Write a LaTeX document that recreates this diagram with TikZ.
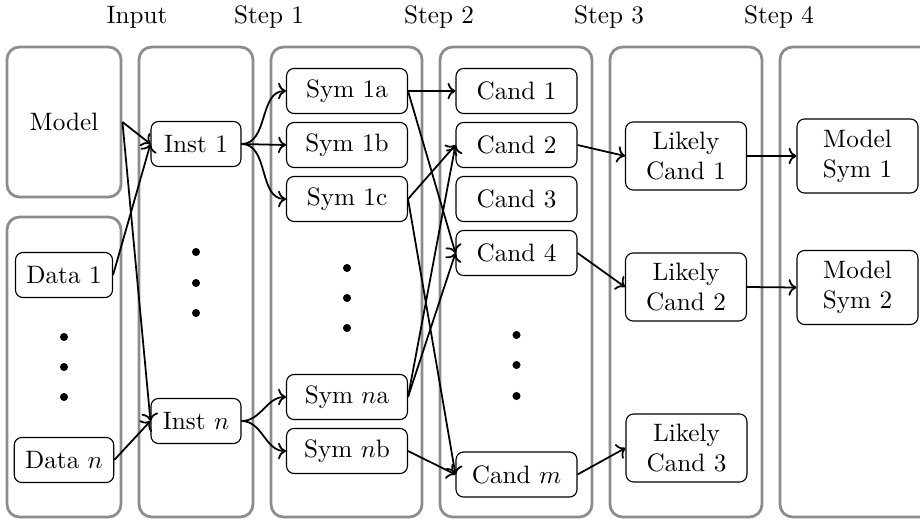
\documentclass[tikz,border=0pt]{standalone}
\usetikzlibrary{arrows.meta}
\begin{document}
\begin{tikzpicture}[x=0.397pt,y=-0.397pt,
  frame/.style={draw=black!45, line width=1.1pt, rounded corners=5pt},
  box/.style={draw, line width=0.45pt, rounded corners=3pt, inner xsep=4.3pt, minimum height=17.9pt, align=center},
  databox/.style={box, minimum width=38.5pt},
  instbox/.style={box, minimum width=35.7pt},
  symbox/.style={box, minimum width=48pt},
  likelybox/.style={box, minimum width=48pt, minimum height=27pt},
  msymbox/.style={box, minimum width=48pt, minimum height=29.4pt},
  conn/.style={->, line width=0.7pt},
  hdr/.style={anchor=base}
]
\useasboundingbox (0,0) rectangle (920,522);

% frames
\node[frame, minimum width=45.3pt, minimum height=59.6pt, inner sep=0pt] (model) at (64,122) {Model};
\draw[frame] (7,217) rectangle (121,517);
\draw[frame] (139,47) rectangle (253,517);
\draw[frame] (271,47) rectangle (422,517);
\draw[frame] (440,47) rectangle (592,517);
\draw[frame] (610,47) rectangle (762,517);
\begin{scope}
\clip (0,0) rectangle (920,522);
\draw[frame] (780,47) rectangle (960,517);
\end{scope}

% headers
\node[hdr] (hInput) at (137,24) {Input};
\node[hdr] (hS1) at (269,24) {Step 1};
\node[hdr] (hS2) at (439,24) {Step 2};
\node[hdr] (hS3) at (609,24) {Step 3};
\node[hdr] (hS4) at (779,24) {Step 4};

% input
\node[databox] (d1) at (64,275) {Data 1};
\node[databox] (dn) at (64,460) {Data $n$};
\fill (64,337) circle (1.6pt) (64,367) circle (1.6pt) (64,397) circle (1.6pt);

% step 1
\node[instbox] (i1) at (196,144) {Inst 1};
\node[instbox] (in) at (196,421) {Inst $n$};
\fill (196,252) circle (1.6pt) (196,283) circle (1.6pt) (196,313) circle (1.6pt);

% step 2
\node[symbox] (s1a) at (347,91) {Sym 1a};
\node[symbox] (s1b) at (347,145) {Sym 1b};
\node[symbox] (s1c) at (347,199) {Sym 1c};
\node[symbox] (sna) at (347,397) {Sym $n$a};
\node[symbox] (snb) at (347,451) {Sym $n$b};
\fill (347,268) circle (1.6pt) (347,298) circle (1.6pt) (347,328) circle (1.6pt);

% step 3
\node[symbox] (c1) at (516.5,91) {Cand 1};
\node[symbox] (c2) at (516.5,145) {Cand 2};
\node[symbox] (c3) at (516.5,199) {Cand 3};
\node[symbox] (c4) at (516.5,253) {Cand 4};
\node[symbox] (cm) at (516.5,474.5) {Cand $m$};
\fill (516.5,335) circle (1.6pt) (516.5,365) circle (1.6pt) (516.5,396) circle (1.6pt);

% step 4
\node[likelybox] (l1) at (686,156) {Likely\\Cand 1};
\node[likelybox] (l2) at (686,287) {Likely\\Cand 2};
\node[likelybox] (l3) at (686.5,448) {Likely\\Cand 3};

% step 5
\node[msymbox] (m1) at (857.5,156) {Model\\Sym 1};
\node[msymbox] (m2) at (857.5,287.5) {Model\\Sym 2};

% connectors
\draw[conn] (model.east) -- (i1.west);
\draw[conn] (model.east) -- (in.west);
\draw[conn] (d1.east) -- (i1.west);
\draw[conn] (dn.east) -- (in.west);

\draw[conn] (i1.east) to[out=0,in=180] (s1a.west);
\draw[conn] (i1.east) -- (s1b.west);
\draw[conn] (i1.east) to[out=0,in=180] (s1c.west);
\draw[conn] (in.east) to[out=0,in=180] (sna.west);
\draw[conn] (in.east) to[out=0,in=180] (snb.west);

\draw[conn] (s1a.east) -- (c1.west);
\draw[conn] (s1a.east) -- (c4.west);
\draw[conn] (s1c.east) -- (c2.west);
\draw[conn] (s1c.east) -- (cm.west);
\draw[conn] (sna.east) -- (c2.west);
\draw[conn] (sna.east) -- (c4.west);
\draw[conn] (snb.east) -- (cm.west);

\draw[conn] (c2.east) -- (l1.west);
\draw[conn] (c4.east) -- (l2.west);
\draw[conn] (cm.east) -- (l3.west);

\draw[conn] (l1.east) -- (m1.west);
\draw[conn] (l2.east) -- (m2.west);
\end{tikzpicture}
\end{document}
